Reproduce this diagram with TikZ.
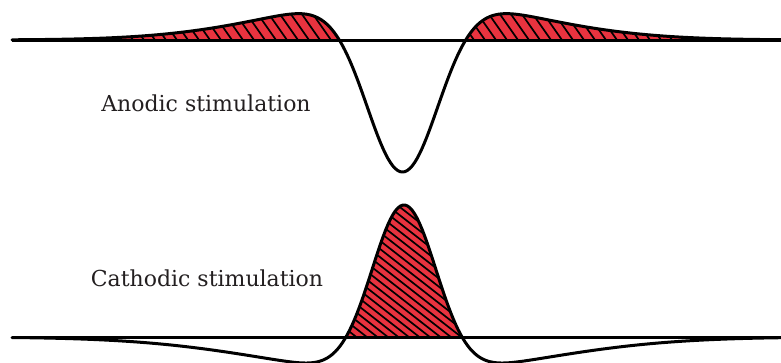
\documentclass[tikz,border=0pt]{standalone}
\usepackage{fontspec}
\setmainfont{DejaVu Serif}
\definecolor{hatchred}{HTML}{E8333F}
\definecolor{txt}{HTML}{231F20}
\tikzset{
  curve/.style={line width=3pt, line join=round, line cap=round},
  baseline/.style={line width=3pt},
  hatch/.style={line width=1.7pt, black},
  label/.style={text=txt, font=\fontsize{22}{26}\selectfont, inner sep=0pt}
}
\begin{document}
\begin{tikzpicture}[x=1pt,y=-1pt]
\useasboundingbox (0,0) rectangle (781,362);
% ---------- top: anodic ----------
\begin{scope}
  \clip (0,-20) rectangle (781,40);
  \clip plot[domain=12:781,samples=320] (\x,{40+174*exp(-((\x-402.5)/50.6)^2)-42*exp(-((\x-402.5)/170)^2)}) -- cycle;
  \fill[hatchred] (0,-20) rectangle (781,40);
  \foreach \k in {-100,-89,...,800} \draw[hatch] (\k,-10) -- ++(42,60);
\end{scope}
\draw[baseline] (12,40) coordinate (ta) -- (781,40) coordinate (tb);
\draw[curve] plot[domain=12:781,samples=320] (\x,{40+174*exp(-((\x-402.5)/50.6)^2)-42*exp(-((\x-402.5)/170)^2)});
\node[label] (anodic) at (206,103) {Anodic stimulation};
% ---------- bottom: cathodic ----------
\begin{scope}
  \clip (0,180) rectangle (781,337);
  \clip plot[domain=12:781,samples=320] (\x,{337-168*exp(-((\x-404)/45.4)^2)+36*exp(-((\x-404)/190)^2)}) -- cycle;
  \fill[hatchred] (0,180) rectangle (781,337);
  \foreach \k in {0,10.5,...,700} \draw[hatch] (\k,190) -- ++(205,160);
\end{scope}
\draw[baseline] (12,337) coordinate (ba) -- (781,337) coordinate (bb);
\draw[curve] plot[domain=12:781,samples=320] (\x,{337-168*exp(-((\x-404)/45.4)^2)+36*exp(-((\x-404)/190)^2)});
\node[label] (cathodic) at (207,278) {Cathodic stimulation};
\end{tikzpicture}
\end{document}
